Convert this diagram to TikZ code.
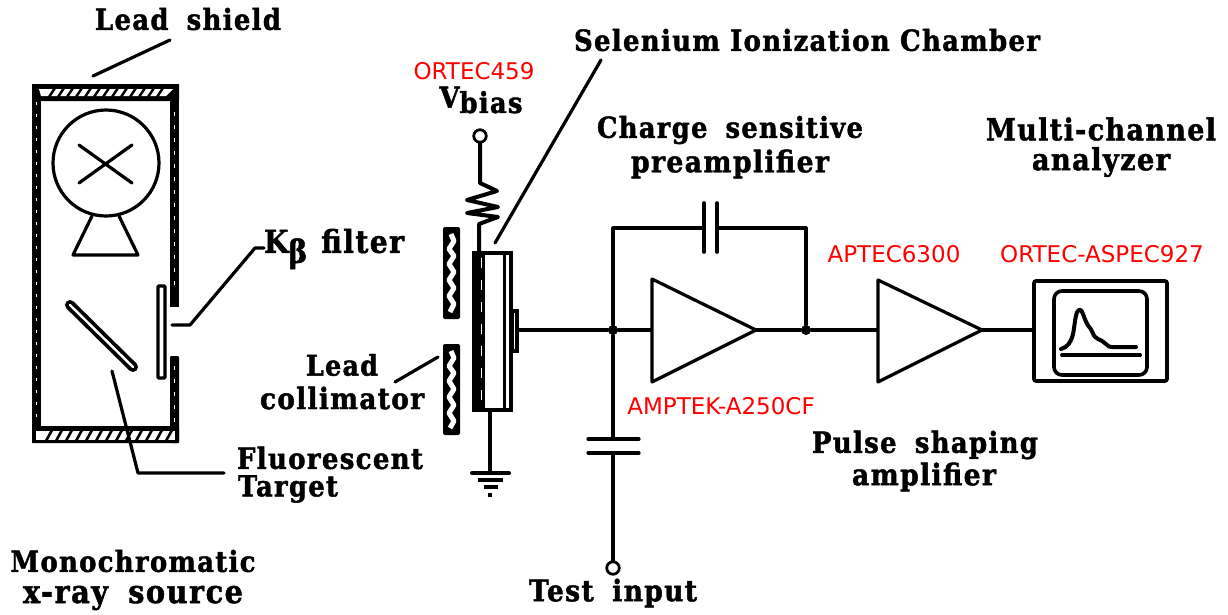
\documentclass[tikz,border=0pt]{standalone}
\usepackage{fontspec}
\usepackage{graphicx}
\setmainfont[BoldFeatures={FakeBold=1.6,LetterSpace=5}]{DejaVu Serif}
\newfontfamily\redfont{DejaVu Sans}
\usetikzlibrary{calc}
\newcommand{\fitlab}[2]{\scalebox{1}[1.12]{\resizebox{#1pt}{!}{\bfseries #2}}}
\tikzset{
  wire/.style={line width=3.2pt,line cap=round,line join=round},
  leader/.style={line width=3.2pt,line cap=round,line join=round},
  blab/.style={inner sep=0pt,align=center,text=black},
  rlab/.style={inner sep=0pt,text=red,font=\redfont\fontsize{23}{23}\selectfont},
  dot/.style={circle,fill=black,inner sep=0pt,minimum size=10pt},
  term/.style={circle,draw=black,line width=2.8pt,fill=white,inner sep=0pt,minimum size=12.5pt},
  amp/.style={wire,fill=white},
}
\begin{document}
\begin{tikzpicture}[x=1pt,y=-1pt]
\useasboundingbox (0,0) rectangle (1228,614);
% ---- x-ray source
\fill[rounded corners=1pt] (32,84) rectangle (179,101);
\fill[rounded corners=1pt] (32,426) rectangle (179,443);
\fill (32,84) rectangle (41,443);
\fill (170,84) rectangle (179,307);
\fill[rounded corners=1pt] (170,356) rectangle (179,443);
\draw[white,line width=0.8pt,dash pattern=on 3pt off 9pt] (36,102) -- (36,426);
\draw[white,line width=0.8pt,dash pattern=on 4pt off 9pt] (174,112) -- (174,290);
\draw[white,line width=0.8pt,dash pattern=on 4pt off 9pt] (174,366) -- (174,425);
\fill[white] (39,89) -- (173,89) -- (166,96) -- (41,96) -- cycle;
\fill[white] (36,431) rectangle (175,440);
\foreach \x in {52,61,...,164}{\draw[line width=2.4pt] (\x+3,88) -- (\x-3,97);}
\foreach \x in {48,58,...,172}{\draw[line width=2.6pt] (\x+4,430) -- (\x-2,441);}
\coordinate (tube) at (106,163);
\draw[wire] (tube) circle (53);
\coordinate (xa) at (79,145); \coordinate (xb) at (132,183);
\coordinate (xc) at (79,183); \coordinate (xd) at (132,145);
\draw[wire] (xa) -- (xb) (xc) -- (xd);
\draw[wire] (92,216) -- (73,255) -- (138,255) -- (119,216);
% filter
\draw[line width=3.2pt,fill=white,rounded corners=1pt] (158,286) rectangle (165,378);
% crystal
\coordinate (cra) at (70,305); \coordinate (crb) at (133,367);
\draw[line width=10pt,line cap=round] (cra) -- (crb);
\draw[white,line width=2.4pt,line cap=round] (cra) -- (crb);
% leaders
\coordinate (shA) at (93,76); \coordinate (shB) at (170,40);
\draw[leader] (shA) -- (shB);
\coordinate (kA) at (172,325); \coordinate (kB) at (190,325); \coordinate (kC) at (255,248); \coordinate (kD) at (264,248);
\draw[leader] (kA) -- (kB) -- (kC) -- (kD);
\coordinate (fA) at (112,371); \coordinate (fB) at (138,473); \coordinate (fC) at (224,473);
\draw[leader] (fA) -- (fB) -- (fC);
% ---- collimator
\foreach \ya/\yb in {227/319,344/435}{
  \fill[rounded corners=2pt] (443,\ya) rectangle (460,\yb);
  \draw[white,line width=5pt,line join=round]
    (451,\ya+7) -- (454,\ya+14) -- (449,\ya+22) -- (454,\ya+29) -- (449,\ya+37) -- (454,\ya+45) -- (449,\ya+53) -- (454,\ya+61) -- (449,\ya+69) -- (454,\ya+77) -- (450,\yb-7);
}
\coordinate (colA) at (395,382); \coordinate (colB) at (438,357);
\draw[leader] (colA) -- (colB);
% ---- detector
\draw[line width=3.2pt,fill=white] (474,253) rectangle (511,410);
\fill (474,253) rectangle (485,410);
\draw[white,line width=0.8pt,dash pattern=on 10pt off 12pt] (481,258) -- (481,405);
\draw[line width=3pt] (504,253) -- (504,410);
\draw[line width=3.2pt,fill=white] (512,311) rectangle (517,351);
\coordinate (chamber) at (601,60); \coordinate (chamberB) at (495,243);
\draw[leader] (chamber) -- (chamberB);
% Vbias
\node[term] (vb) at (480,136) {};
\coordinate (rA) at (480,183); \coordinate (rB) at (479,253);
\draw[wire,line width=4pt] (vb) -- (rA) -- (497,191) -- (467,200) -- (498,207) -- (467,213) -- (498,217) -- (479,224) -- (rB);
% ground
\coordinate (gA) at (490,411); \coordinate (gB) at (490,473);
\draw[wire] (gA) -- (gB);
\draw[line width=4pt,line cap=round] (472,473) -- (509,473);
\draw[line width=3.4pt] (478,480) -- (503,480);
\draw[line width=3.4pt] (484,487) -- (498,487);
\draw[line width=3.4pt] (488,495) -- (492,495);
% ---- preamp
\coordinate (elec) at (517,330);
\node[dot] (j1) at (613,330) {};
\node[dot] (j2) at (806,330) {};
\coordinate (a1L) at (652,330); \coordinate (a1R) at (756,330);
\coordinate (a2L) at (878,330); \coordinate (a2R) at (982,330);
\coordinate (mcaL) at (1034,330);
\draw[wire] (elec) -- (j1) -- (a1L);
\draw[wire] (a1R) -- (j2) -- (a2L);
\draw[wire] (a2R) -- (mcaL);
\draw[amp] (652,279) -- (a1R) -- (652,382) -- cycle;
\draw[amp] (878,280) -- (a2R) -- (878,382) -- cycle;
% feedback
\coordinate (fbA) at (613,228); \coordinate (capL) at (704,228); \coordinate (capR) at (717,228); \coordinate (fbB) at (806,228);
\draw[wire] (j1) -- (fbA) -- (capL);
\draw[wire] (capR) -- (fbB) -- (j2);
\draw[wire,line width=3.6pt] (704,203) -- (704,252) (717,203) -- (717,252);
% test cap
\coordinate (tA) at (613,439); \coordinate (tB) at (613,453);
\draw[wire] (j1) -- (tA);
\draw[wire] (588,439) -- (639,439) (588,453) -- (639,453);
\node[term] (ti) at (613,568) {};
\draw[wire] (tB) -- (ti);
% ---- MCA
\draw[line width=3.6pt,rounded corners=2pt] (1034,281) rectangle (1167,381);
\draw[line width=3.6pt,rounded corners=8pt] (1054,291) rectangle (1147,375);
\draw[line width=4pt,line cap=round,line join=round]
  (1061,349) .. controls (1068,347) and (1071,342) .. (1073,334)
  .. controls (1075,325) and (1075,312) .. (1079,310)
  .. controls (1083,308) and (1084,322) .. (1090,328)
  .. controls (1094,333) and (1092,336) .. (1098,339)
  .. controls (1106,342) and (1108,348) .. (1112,347) -- (1136,347);
\draw[line width=4pt,line cap=round] (1062,355) -- (1140,355);
% ---- labels
\node[blab] (t1) at (188,19) {\fitlab{186}{Lead\hspace{0.7em}shield}};
\node[blab] (t2) at (807,40) {\fitlab{466}{Selenium Ionization Chamber}};
\node[blab] (t3) at (481,100) {\fitlab{83}{V\raisebox{-0.35ex}{bias}}};
\node[rlab] (r1) at (474,71) {ORTEC459};
\node[blab] (t4) at (730,130) {\fitlab{266}{Charge\hspace{0.7em}sensitive}};
\node[blab] (t5) at (730,164) {\fitlab{198}{preamplifier}};
\node[blab] (t6) at (1101,129) {\fitlab{230}{Multi-channel}};
\node[blab] (t7) at (1101,162) {\fitlab{138}{analyzer}};
\node[rlab] (r2) at (894,254) {APTEC6300};
\node[rlab] (r3) at (1102,254) {ORTEC-ASPEC927};
\node[rlab] (r4) at (721,406) {AMPTEK-A250CF};
\node[blab] (t8) at (334,249) {\fitlab{140}{K\raisebox{-0.6ex}{β}\hspace{0.5em}filter}};
\node[blab] (t9) at (342,365) {\fitlab{72}{Lead}};
\node[blab] (t10) at (342,398) {\fitlab{164}{collimator}};
\node[blab] (t11) at (330,458) {\fitlab{186}{Fluorescent}};
\node[blab] (t12) at (288,489) {\fitlab{100}{Target}};
\node[blab] (t13) at (925,445) {\fitlab{226}{Pulse\hspace{0.7em}shaping}};
\node[blab] (t14) at (924,477) {\fitlab{144}{amplifier}};
\node[blab] (t15) at (133,561) {\fitlab{245}{Monochromatic}};
\node[blab] (t16) at (133,598) {\fitlab{220}{x-ray\hspace{0.7em}source}};
\node[blab] (t17) at (613,593) {\fitlab{168}{Test\hspace{0.7em}input}};
\end{tikzpicture}
\end{document}
